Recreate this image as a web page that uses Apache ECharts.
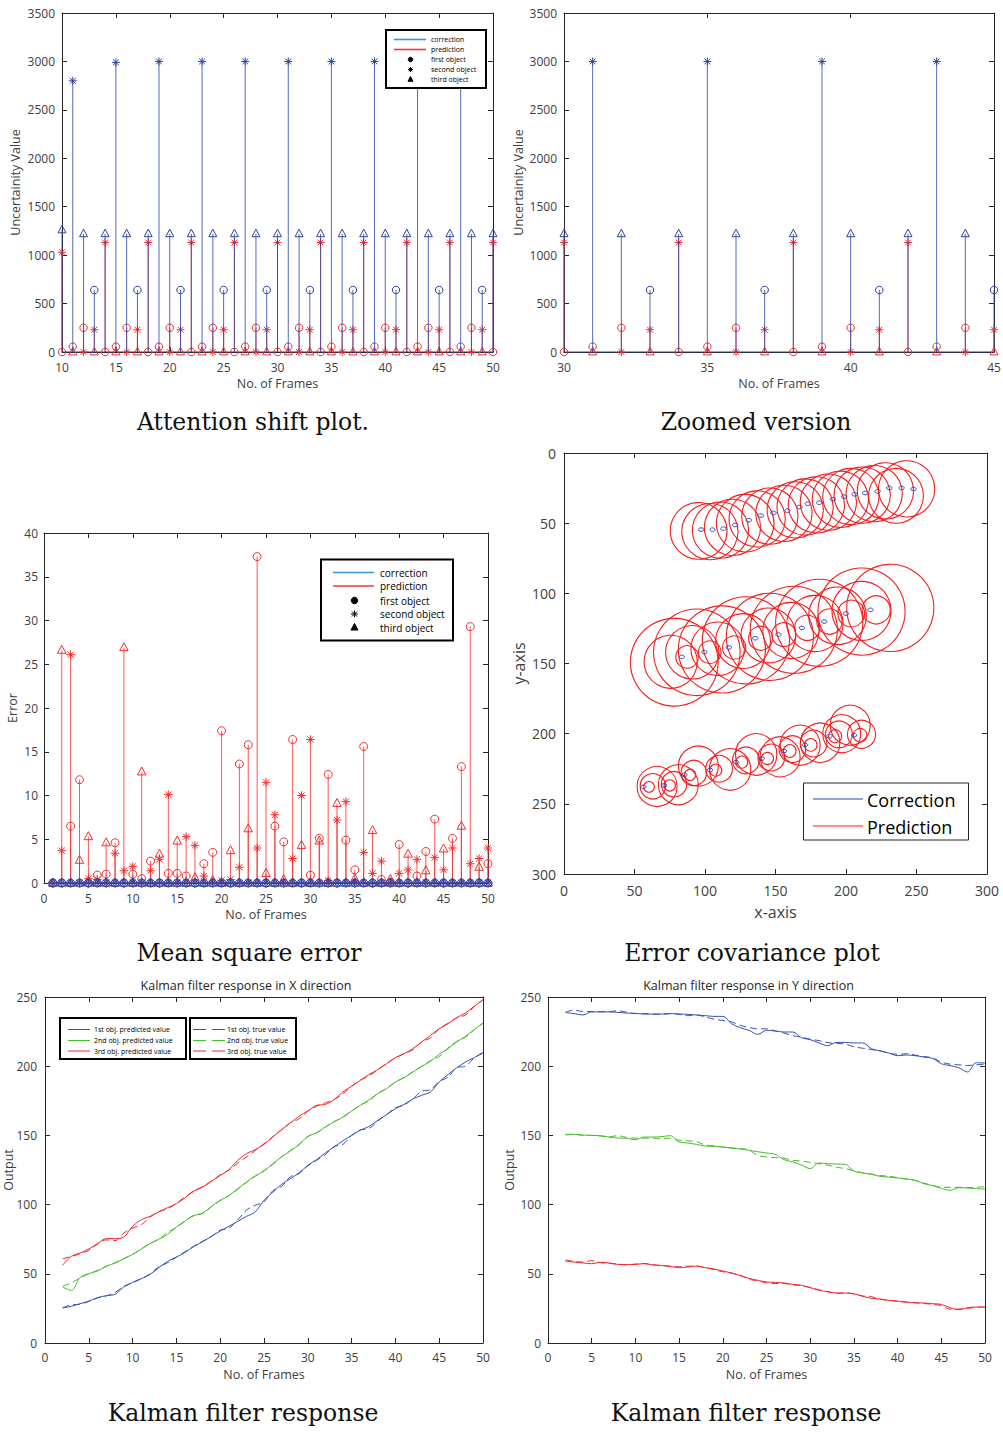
<!DOCTYPE html>
<html>
<head>
<meta charset="utf-8">
<title>Multi-object Kalman tracking</title>
<script src="https://cdn.jsdelivr.net/npm/echarts@6.0.0/dist/echarts.min.js"></script>
<style>
  html, body { margin: 0; padding: 0; background: #ffffff; }
  #fig { width: 1003px; height: 1432px; }
</style>
</head>
<body>
<div id="fig"></div>
<script>
// ---------------- data ----------------

// Attention shift: uncertainty per frame (null = no stem for that object)
const shiftFrames = [10,11,12,13,14,15,16,17,18,19,20,21,22,23,24,25,26,27,28,29,30,31,32,33,34,35,36,37,38,39,40,41,42,43,44,45,46,47,48,49,50];
const shiftCorrFirst = [null,null,null,640, null,null,null,640, null,null,null,640, null,null,null,640, null,null,null,640, null,null,null,640, null,null,null,640, null,null,null,640, null,null,null,640, null,null,null,640, null];
const shiftCorrSecond = [null,2800,null,null, null,2990,null,null, null,3000,null,null, null,3000,null,null, null,3000,null,null, null,3000,null,null, null,3000,null,null, null,3000,null,null, null,3000,null,null, null,3000,null,null, null];
const shiftCorrThird = [1260,null,1220,null, 1220,null,1220,null, 1220,null,1220,null, 1220,null,1220,null, 1220,null,1220,null, 1220,null,1220,null, 1220,null,1220,null, 1220,null,1220,null, 1220,null,1220,null, 1220,null,1220,null, 1220];
const shiftPredFirst = [0,55,250,null, 0,55,250,null, 0,55,250,null, 0,55,250,null, 0,55,250,null, 0,55,250,null, 0,55,250,null, 0,55,250,null, 0,55,250,null, 0,55,250,null, 0];
const shiftPredSecond = [1030,null,0,230, 1130,null,0,230, 1130,null,0,230, 1130,null,0,230, 1130,null,0,230, 1130,null,0,230, 1130,null,0,230, 1130,null,0,230, 1130,null,0,230, 1130,null,0,230, 1130];
const shiftPredThird = [null,0,null,0, null,0,null,0, null,0,null,0, null,0,null,0, null,0,null,0, null,0,null,0, null,0,null,0, null,0,null,0, null,0,null,0, null,0,null,0, null];
const shiftFrameTicks = [10, 50, 5];
const zoomFrameTicks = [30, 45, 5];
const uncertaintyTicks = [0, 3500, 500];

// Mean square error per frame
const mseFrames = [1,2,3,4,5,6,7,8,9,10,11,12,13,14,15,16,17,18,19,20,21,22,23,24,25,26,27,28,29,30,31,32,33,34,35,36,37,38,39,40,41,42,43,44,45,46,47,48,49,50];
const msePredFirst = [0,0,6.5,11.8,0,0.9,1.0,4.6,0,1.0, 0.5,2.5,0,1.1,1.1,0.8,0,2.2,3.5,17.4, 0,13.6,15.8,37.3,0,6.5,4.7,16.4,0,0.9, 5.1,12.4,0,4.9,1.5,15.6,0,0.4,0.1,4.4, 0,0.8,3.6,7.3,0,5.1,13.3,29.3,0,2.2];
const msePredSecond = [0,3.7,26.1,0,0.5,0.4,0,3.4,1.4,1.9, 0,1.4,2.7,10.1,0,5.3,4.3,0.8,0,0.3, 0.4,1.8,0,4.0,11.5,7.8,0,2.8,10.0,16.4, 0,0.3,7.2,9.3,0,3.5,1.1,2.5,0,1.1, 1.5,2.7,0,2.9,1.5,4.0,0,2.2,2.8,4.0];
const msePredThird = [0,26.6,0,2.6,5.3,0,4.6,0,26.9,0, 12.7,0,3.3,0,4.8,0,0.6,0,0.3,0, 3.7,0,6.2,0,1.1,0,0.4,0,4.3,0, 4.8,0,9.1,0,0.5,0,6.0,0,0.4,0, 3.3,0,1.4,0,3.9,0,6.5,0,1.8,0];
const mseCorrection = [0,0,0,0,0,0,0,0,0,0, 0,0,0,0,0,0,0,0,0,0, 0,0,0,0,0,0,0,0,0,0, 0,0,0,0,0,0,0,0,0,0, 0,0,0,0,0,0,0,0,0,0];
const mseFrameTicks = [0, 50, 5];
const errorTicks = [0, 40, 5];

// Error covariance: corrected estimates (blue) and predicted covariance circles (red)
const covCorrX = [97.2,105.3,113.1,121.4,131.1,139.6,148.6,158.5,167.0,172.9,181.0,190.7,198.7,206.1,213.6,222.4,230.7,239.4,247.9,
  83.5,99.6,116.9,135.6,152.1,168.7,184.5,199.9,217.4,
  56.3,71.0,85.4,103.6,122.1,140.3,156.1,171.0,188.3,205.8];
const covCorrY = [54.6,54.6,53.9,51.3,47.9,44.6,42.7,41.1,38.5,36.1,35.4,33.0,31.1,29.4,28.5,27.3,24.9,24.9,25.6,
  145.3,141.9,138.6,132.0,129.4,124.6,120.1,114.4,111.8,
  237.9,236.9,229.3,226.0,220.3,217.7,212.3,208.0,201.8,201.1];
const covPredX = [95.5,103.5,111,119.5,128.5,137,146,156,164,171,179,187.5,196,203.5,211.5,220,228,235.5,243,
  87.3,103.4,120.7,139.4,155.9,172.5,188.3,203.7,221.4,
  75.7,91,109,127,145,161,178,194,211,
  78.2,94.2,112,129,146,163,181,211,231.4,
  60.3,75,89.4,107.6,126.1,144.3,160.1,175,192.3,210,
  63,78,92,110,129,147,162,177,195,211,
  66,81.1,95.3,117.8,136.3,153.3,167.5,181.7,197,203];
const covPredY = [55.5,56,55,53,50,47,45,43,40.5,38.5,37,35,33,31,30,29,27,30.5,25.6,
  145.3,141.9,138.6,132.0,129.4,124.6,120.1,114.4,111.8,
  148.8,142,139.5,134,130,126.5,121.5,116,112.5,
  149.1,142,140,133.5,131,126,121,113,110.4,
  237.9,236.9,229.3,226.0,220.3,217.7,212.3,208.0,201.8,201.1,
  237.5,236,228,225,219,217,211,207,200.5,200.5,
  237.6,236.4,223.1,225.5,214.8,216.5,208.2,206.5,200,194];
const covPredR = [20.2,20,20,20,20.5,20,20,20,20,20,20,20,20,20,20,20,20,19.5,20,
  8,8,8.3,8.5,8.5,9,9,9.5,10,
  18.9,19,19,19.5,19.5,20,20,20.5,21,
  31.2,30.8,31,31,31,31,31,31,31,
  3.8,4,4,4.3,4.3,4.3,4.5,4.5,4.6,4.8,
  9,9,9,9.5,9.5,9.5,9.5,9.5,9.5,10,
  14.2,14.2,14.2,14.7,14.7,14.2,14.2,14,13.5,14.2];
const covTicks = [0, 300, 50];

// Kalman filter response, frames 2..50
const kfFrames = [2,3,4,5,6,7,8,9,10,11,12,13,14,15,16,17,18,19,20,21,22,23,24,25,26,27,28,29,30,31,32,33,34,35,36,37,38,39,40,41,42,43,44,45,46,47,48,49,50];
const kfXPred1 = [25.3,26.5,28.4,30.3,32.8,34.2,35.2,40.5,43.8,46.5,49.6,54.4,59,62.1,65.5,69.8,73.2,77.1,80.9,84.3,87.9,91.5,94.7,103.1,108.9,114.6,118.7,122.8,128.4,132.5,137.3,141.6,146,150,153.7,156.5,160.9,165,169.3,172.4,176.3,179,181.4,188.6,193.9,198.9,203,206.2,209.5];
const kfXTrue1 = [25.5,27.5,28,30,32.5,34,36.5,41,43.5,46.5,50,55,58,62,66,70,73.5,77,81.5,83,89,96,99.5,102,110,113,120,122.5,128,132,136,142,143.5,150,154,155,160.5,165,170,172,176.5,182,183,189,192,199,200,206,210];
const kfXPred2 = [40.5,38,47.2,50.1,52,55.4,57.8,60.9,64.1,67.9,71.8,75.1,78.5,83.8,88.2,92,93.9,98.7,103.1,106.5,111.5,116.3,120.7,124.3,129.6,134.4,138.7,143.3,149.3,151.7,156.1,159.7,163.3,167.6,171.7,175.8,180.2,183.8,188.6,191.7,195.8,199.9,203.5,208.6,212.7,217.5,221.6,226.4,231.2];
const kfXTrue2 = [41,43.5,47,50,52.5,55.5,58,61,64,68,72,75,80,83.5,88,92.5,93.5,98.5,103,106.5,111,116,120.5,124.5,129,134.5,139,143.5,149,152,156,160,163,167.5,172,175,180.5,184,188.5,192,196,200,204,207,213,218,221,226.5,231];
const kfXPred3 = [56.1,62.6,65,67.9,71.8,75.4,75.4,76.6,84.3,89.1,91.5,94.7,97.8,100.7,105,109.8,112.7,116.8,121.1,125.2,132,136.8,139.7,143.5,148.8,154.1,159,163.8,167.6,171.7,172.4,175.8,181.4,185.5,189.8,194.1,197.5,201.8,206.2,209,212.7,217.5,222.3,227.1,230.7,235.1,238.4,243.3,248.1];
const kfXTrue3 = [61,62.5,64.5,67,71.5,74.5,74,79.5,83,85.5,91,95,97,101,105.5,110,113,117,121.5,125,130,134.5,139,144,149,154,159,162,167.5,171,173.5,176,180,185.5,190,193,197.5,202,206,209,212,217.5,220.5,227,231,235,237,243,248];
const kfYPred1 = [238.7,238,237,239.2,239.2,239.2,238.9,238.4,238.2,237.7,237.7,237.7,238,237.7,237.5,237,236.5,236,236,230.7,227.8,225.9,223,225.9,225.4,224.7,224.7,220.6,219.2,216.8,214.8,217.2,217.2,216.8,216.8,212.7,211,209.5,207.6,208.1,207.6,206.6,205.7,201.8,200.4,198.9,195.8,202.5,202.3];
const kfYTrue1 = [239,240.5,239.5,239.5,239.5,239.5,240,239,238,238,237.5,237.5,238,237.5,236.5,237,235.5,234,233,232,229.5,228,227,227,225.5,224,222,221,219.5,218.5,217,216.5,216,214,213,212,211,209.5,208.5,209,208,207,206,203,201.5,201,200.5,201,201.5];
const kfYPred2 = [150.8,150.8,150.3,150,149.8,148.8,148.1,147.9,146.9,148.8,148.8,149.1,149.8,145.2,144.5,143.5,142.3,142.1,141.6,140.7,140.2,139.2,138.2,137.3,136.3,132.5,130.8,128.6,126,130.1,129.6,129.3,129.1,124.3,122.8,121.9,120.4,119.9,119.2,118.5,117.5,115.1,113.7,111.8,110.3,112.2,112,111.5,111.3];
const kfYTrue2 = [150.3,150.8,150,150,149.5,149,149.8,148.5,148,148,148,147.5,148,146.5,146,145.5,143,142.5,141.5,141,140.5,139.5,135.5,134.5,134,133.5,132,131.5,130.5,129.5,128.5,127,126,124.5,123,122,121,120.5,119.5,118.5,117.5,115.5,114,112.5,112.5,112.5,112.3,112.5,113];
const kfYPred3 = [59,58.5,57.8,57.3,58.3,57.8,56.8,56.6,56.8,57.3,56.4,55.9,55.4,54.4,54.9,55.6,54.4,53.5,52,50.6,48.7,46.7,45.3,44.1,43.8,43.4,42.4,41.7,40,38.1,37.1,36.1,36.1,35.6,33.7,32.3,31.8,30.8,30.3,29.6,29.1,28.9,28.4,27.9,25.5,24.1,25.5,26,26];
const kfYTrue3 = [60,59,58.5,59.5,58,57.5,57,56.5,57,57.5,56.5,56,55.5,55,55.5,55.5,54.5,53,51.5,50.5,49,46,45,43.5,43,43,42,41.5,40,38.5,37,36,36,35.5,34,33.5,31.5,31,30,29.5,29,28.5,28,27,24.5,24.5,25,25.8,26];
const kfFrameTicks = [0, 50, 5];
const outputTicks = [0, 250, 50];

// ---------------- styling ----------------
const SANS = '"Open Sans", "Noto Sans", "DejaVu Sans", sans-serif';
const SERIF = '"DejaVu Serif", "Liberation Serif", serif';
const AXIS_COLOR = '#262626';
const LABEL_COLOR = '#404040';
const STEM_BLUE = '#2b43a6';
const STEM_RED = '#f52d2d';
const TRACK_BLUE = '#3551b3';
const TRACK_GREEN = '#47bd2c';
const TRACK_RED = '#f2262b';
const COV_RED = '#f41e1e';
const COV_BLUE = '#2f47ad';

const grids = [
  { left: 62, top: 13, width: 431, height: 339 },
  { left: 564, top: 13, width: 430, height: 339 },
  { left: 44, top: 533, width: 444, height: 350 },
  { left: 564, top: 453, width: 423, height: 421 },
  { left: 45, top: 997, width: 438, height: 346 },
  { left: 548, top: 997, width: 437, height: 346 }
].map(g => Object.assign({ show: false, outerBoundsMode: 'none' }, g));

// plain integers on the tick labels (no thousands separators)
const plainNumber = v => String(v);

// boxed axes: labelled bottom/left, mirrored top/right with inward ticks
const xAxes = [], yAxes = [];
function boxAxes(gi, xr, yr, o) {
  const line = { show: true, onZero: false, lineStyle: { color: AXIS_COLOR, width: 1 } };
  const tick = { show: true, inside: true, length: 5, lineStyle: { color: AXIS_COLOR, width: 1 } };
  const lab = { color: LABEL_COLOR, fontFamily: SANS, fontSize: o.tickSize, formatter: plainNumber };
  const nameStyle = { color: LABEL_COLOR, fontFamily: SANS, fontSize: o.nameSize };
  const base = { type: 'value', gridIndex: gi, axisLine: line, axisTick: tick, splitLine: { show: false }, nameMoveOverlap: false };
  xAxes.push(Object.assign({}, base, {
    position: 'bottom', min: xr[0], max: xr[1], interval: xr[2],
    axisLabel: Object.assign({ margin: o.xMargin }, lab),
    name: o.xName, nameLocation: 'middle', nameGap: o.xGap, nameTextStyle: nameStyle
  }));
  xAxes.push(Object.assign({}, base, { position: 'top', min: xr[0], max: xr[1], interval: xr[2], axisLabel: { show: false } }));
  yAxes.push(Object.assign({}, base, {
    position: 'left', inverse: !!o.inverse, min: yr[0], max: yr[1], interval: yr[2],
    axisLabel: Object.assign({ margin: o.yMargin }, lab),
    name: o.yName, nameLocation: 'middle', nameGap: o.yGap, nameTextStyle: nameStyle
  }));
  yAxes.push(Object.assign({}, base, { position: 'right', inverse: !!o.inverse, min: yr[0], max: yr[1], interval: yr[2], axisLabel: { show: false } }));
}

boxAxes(0, shiftFrameTicks, uncertaintyTicks, { tickSize: 12, nameSize: 12.5, xMargin: 9, yMargin: 7, xName: 'No. of Frames', xGap: 25, yName: 'Uncertainity Value', yGap: 40 });
boxAxes(1, zoomFrameTicks, uncertaintyTicks, { tickSize: 12, nameSize: 12.5, xMargin: 9, yMargin: 7, xName: 'No. of Frames', xGap: 25, yName: 'Uncertainity Value', yGap: 39 });
boxAxes(2, mseFrameTicks, errorTicks, { tickSize: 12, nameSize: 12.5, xMargin: 9, yMargin: 6, xName: 'No. of Frames', xGap: 25, yName: 'Error', yGap: 25 });
boxAxes(3, covTicks, covTicks, { tickSize: 14, nameSize: 16, xMargin: 9, yMargin: 8, xName: 'x-axis', xGap: 30, yName: 'y-axis', yGap: 37, inverse: true });
boxAxes(4, kfFrameTicks, outputTicks, { tickSize: 12, nameSize: 12.5, xMargin: 8, yMargin: 8, xName: 'No. of Frames', xGap: 25, yName: 'Output', yGap: 30 });
boxAxes(5, kfFrameTicks, outputTicks, { tickSize: 12, nameSize: 12.5, xMargin: 8, yMargin: 7, xName: 'No. of Frames', xGap: 25, yName: 'Output', yGap: 32 });

// ---------------- marks ----------------
function marker(kind, x, y, size, color, filled, z) {
  const h = size / 2;
  const st = { fill: filled ? color : 'none', stroke: color, lineWidth: 1 };
  if (kind === 'circle') return { type: 'circle', z, shape: { cx: x, cy: y, r: h }, style: st };
  if (kind === 'triangle') return { type: 'polygon', z, shape: { points: [[x, y - size * 0.58], [x + h, y + size * 0.36], [x - h, y + size * 0.36]] }, style: st };
  const d = h * 0.72;
  const ls = { stroke: color, lineWidth: 1 };
  return { type: 'group', children: [
    { type: 'line', z, shape: { x1: x, y1: y - h, x2: x, y2: y + h }, style: ls },
    { type: 'line', z, shape: { x1: x - h, y1: y, x2: x + h, y2: y }, style: ls },
    { type: 'line', z, shape: { x1: x - d, y1: y - d, x2: x + d, y2: y + d }, style: ls },
    { type: 'line', z, shape: { x1: x - d, y1: y + d, x2: x + d, y2: y - d }, style: ls }
  ]};
}

function stems(gi, frames, values, kind, color, size, z, xr) {
  const data = [];
  frames.forEach((f, i) => {
    const v = values[i];
    if (v === null) return;
    if (xr && (f < xr[0] || f > xr[1])) return;
    data.push([f, v]);
  });
  return {
    type: 'custom', xAxisIndex: gi * 2, yAxisIndex: gi * 2, z, silent: true,
    encode: { x: 0, y: 1 }, data,
    renderItem: (params, api) => {
      const top = api.coord([api.value(0), api.value(1)]);
      const base = api.coord([api.value(0), 0]);
      return { type: 'group', children: [
        { type: 'line', shape: { x1: top[0], y1: base[1], x2: top[0], y2: top[1] }, style: { stroke: color, lineWidth: 1, opacity: 0.8 } },
        marker(kind, top[0], top[1], size, color, false)
      ]};
    }
  };
}

function baseline(gi, frames, color, xr) {
  const pts = frames.filter(f => !xr || (f >= xr[0] && f <= xr[1])).map(f => [f, 0]);
  return { type: 'line', xAxisIndex: gi * 2, yAxisIndex: gi * 2, z: 2, data: pts, symbol: 'none', showSymbol: false, silent: true, lineStyle: { color, width: 1 } };
}

function track(gi, frames, values, color, dashed) {
  return {
    type: 'line', xAxisIndex: gi * 2, yAxisIndex: gi * 2, z: dashed ? 3 : 2, silent: true,
    data: frames.map((f, i) => [f, values[i]]), symbol: 'none', showSymbol: false, smooth: 0.35,
    lineStyle: { color, width: 1, type: dashed ? [7, 4] : 'solid' }
  };
}

const series = [];
// attention shift, full and zoomed
[[0, null], [1, [zoomFrameTicks[0], zoomFrameTicks[1]]]].forEach(([gi, xr]) => {
  series.push(baseline(gi, shiftFrames, STEM_BLUE, xr));
  series.push(stems(gi, shiftFrames, shiftPredFirst, 'circle', STEM_RED, 7.5, 3, xr));
  series.push(stems(gi, shiftFrames, shiftPredSecond, 'star', STEM_RED, 8, 3, xr));
  series.push(stems(gi, shiftFrames, shiftPredThird, 'triangle', STEM_RED, 8, 3, xr));
  series.push(stems(gi, shiftFrames, shiftCorrFirst, 'circle', STEM_BLUE, 7.5, 4, xr));
  series.push(stems(gi, shiftFrames, shiftCorrSecond, 'star', STEM_BLUE, 8, 4, xr));
  series.push(stems(gi, shiftFrames, shiftCorrThird, 'triangle', STEM_BLUE, 8, 4, xr));
});
// mean square error
series.push(baseline(2, mseFrames, STEM_BLUE));
series.push(stems(2, mseFrames, msePredFirst, 'circle', STEM_RED, 8, 3));
series.push(stems(2, mseFrames, msePredSecond, 'star', STEM_RED, 8.5, 3));
series.push(stems(2, mseFrames, msePredThird, 'triangle', STEM_RED, 8.5, 3));
series.push(stems(2, mseFrames, mseCorrection, 'circle', STEM_BLUE, 8, 4));
series.push(stems(2, mseFrames, mseCorrection, 'star', STEM_BLUE, 8.5, 4));
series.push(stems(2, mseFrames, mseCorrection, 'triangle', STEM_BLUE, 8.5, 4));
// error covariance
series.push({
  type: 'custom', name: 'Prediction', xAxisIndex: 6, yAxisIndex: 6, clip: true, silent: true, z: 2,
  encode: { x: 0, y: 1 },
  data: covPredX.map((x, i) => [x, covPredY[i], covPredR[i]]),
  renderItem: (params, api) => {
    const c = api.coord([api.value(0), api.value(1)]);
    const s = api.size([api.value(2), api.value(2)]);
    return { type: 'circle', shape: { cx: c[0], cy: c[1], r: (Math.abs(s[0]) + Math.abs(s[1])) / 2 }, style: { fill: 'none', stroke: COV_RED, lineWidth: 1.1 } };
  }
});
series.push({
  type: 'custom', name: 'Correction', xAxisIndex: 6, yAxisIndex: 6, clip: true, silent: true, z: 3,
  encode: { x: 0, y: 1 },
  data: covCorrX.map((x, i) => [x, covCorrY[i]]),
  renderItem: (params, api) => {
    const c = api.coord([api.value(0), api.value(1)]);
    return { type: 'ellipse', shape: { cx: c[0], cy: c[1], rx: 2.7, ry: 1.8 }, style: { fill: 'none', stroke: COV_BLUE, lineWidth: 1 } };
  }
});
// Kalman filter responses
[[4, [kfXPred1, kfXPred2, kfXPred3], [kfXTrue1, kfXTrue2, kfXTrue3]],
 [5, [kfYPred1, kfYPred2, kfYPred3], [kfYTrue1, kfYTrue2, kfYTrue3]]].forEach(([gi, preds, trues]) => {
  const colors = [TRACK_BLUE, TRACK_GREEN, TRACK_RED];
  preds.forEach((p, k) => series.push(track(gi, kfFrames, p, colors[k], false)));
  trues.forEach((t, k) => series.push(track(gi, kfFrames, t, colors[k], true)));
});

// ---------------- legends, titles, captions ----------------
const Z = 100;
const graphic = [];
function gRect(x, y, w, h, stroke, lw) { graphic.push({ type: 'rect', z: Z, shape: { x, y, width: w, height: h }, style: { fill: '#ffffff', stroke, lineWidth: lw } }); }
function gLine(x1, y1, x2, y2, color, lw) { graphic.push({ type: 'line', z: Z + 1, shape: { x1, y1, x2, y2 }, style: { stroke: color, lineWidth: lw } }); }
function gText(x, y, text, size, opts) {
  opts = opts || {};
  graphic.push({ type: 'text', z: Z + 1, x, y, style: { text, fill: opts.color || '#000000', fontFamily: opts.family || SANS, fontSize: size, align: opts.align || 'left', verticalAlign: 'middle' } });
}
function gMarker(kind, x, y, size) {
  const m = marker(kind, x, y, size, '#000000', true, Z + 1);
  if (m.type === 'group') m.children.forEach(c => graphic.push(c)); else graphic.push(m);
}

// stem legend (attention shift)
gRect(386, 30, 100, 58, '#000000', 2);
gLine(394, 39.5, 426, 39.5, '#3a96d2', 1.6); gText(431, 39.5, 'correction', 7);
gLine(394, 49.5, 426, 49.5, '#f0383e', 1.6); gText(431, 49.5, 'prediction', 7);
gMarker('circle', 410.5, 59.5, 4.5); gText(431, 59.5, 'first object', 7);
gMarker('star', 410.5, 69.5, 5); gText(431, 69.5, 'second object', 7);
gMarker('triangle', 410.5, 79.5, 5); gText(431, 79.5, 'third object', 7);

// stem legend (mean square error)
gRect(321, 559.5, 132, 81, '#000000', 2);
gLine(333, 572.5, 374, 572.5, '#3a96d2', 1.6); gText(380, 572.5, 'correction', 10);
gLine(333, 586, 374, 586, '#f0383e', 1.6); gText(380, 586, 'prediction', 10);
gMarker('circle', 354.5, 600.5, 6.5); gText(380, 600.5, 'first object', 10);
gMarker('star', 354.5, 614, 7); gText(380, 614, 'second object', 10);
gMarker('triangle', 354.5, 627.5, 7); gText(380, 627.5, 'third object', 10);

// covariance legend
gRect(803.5, 783, 165, 57, '#262626', 1);
gLine(813, 799, 863, 799, COV_BLUE, 1); gText(867, 799.5, 'Correction', 18);
gLine(813, 826, 863, 826, COV_RED, 1); gText(867, 826.5, 'Prediction', 18);

// Kalman legends
gRect(60, 1018, 126, 41, '#000000', 2);
gRect(190, 1018, 106, 41, '#000000', 2);
[['1st obj. predicted value', '1st obj. true value', TRACK_BLUE, 1029.5],
 ['2nd obj. predicted value', '2nd obj. true value', TRACK_GREEN, 1040.5],
 ['3rd obj. predicted value', '3rd obj. true value', TRACK_RED, 1051]].forEach(([a, b, c, y]) => {
  gLine(68, y, 90, y, c, 1); gText(94, y, a, 7);
  gLine(193, y, 206, y, c, 1); gLine(212, y, 225, y, c, 1); gText(227, y, b, 7);
});

// plot titles
gText(246, 985, 'Kalman filter response in X direction', 12.5, { align: 'center', color: '#262626' });
gText(748.5, 985, 'Kalman filter response in Y direction', 12.5, { align: 'center', color: '#262626' });

// captions
const CAP = { align: 'center', family: SERIF, color: '#111111' };
gText(253, 422, 'Attention shift plot.', 23.5, CAP);
gText(756, 422, 'Zoomed version', 23.5, CAP);
gText(249, 953, 'Mean square error', 23.5, CAP);
gText(752, 953, 'Error covariance plot', 23.5, CAP);
gText(243, 1413, 'Kalman filter response', 23.5, CAP);
gText(746, 1413, 'Kalman filter response', 23.5, CAP);

const chart = echarts.init(document.getElementById('fig'), null, { renderer: 'svg', width: 1003, height: 1432 });
chart.setOption({
  backgroundColor: '#ffffff',
  animation: false,
  grid: grids,
  xAxis: xAxes,
  yAxis: yAxes,
  series,
  graphic
});
</script>
</body>
</html>
